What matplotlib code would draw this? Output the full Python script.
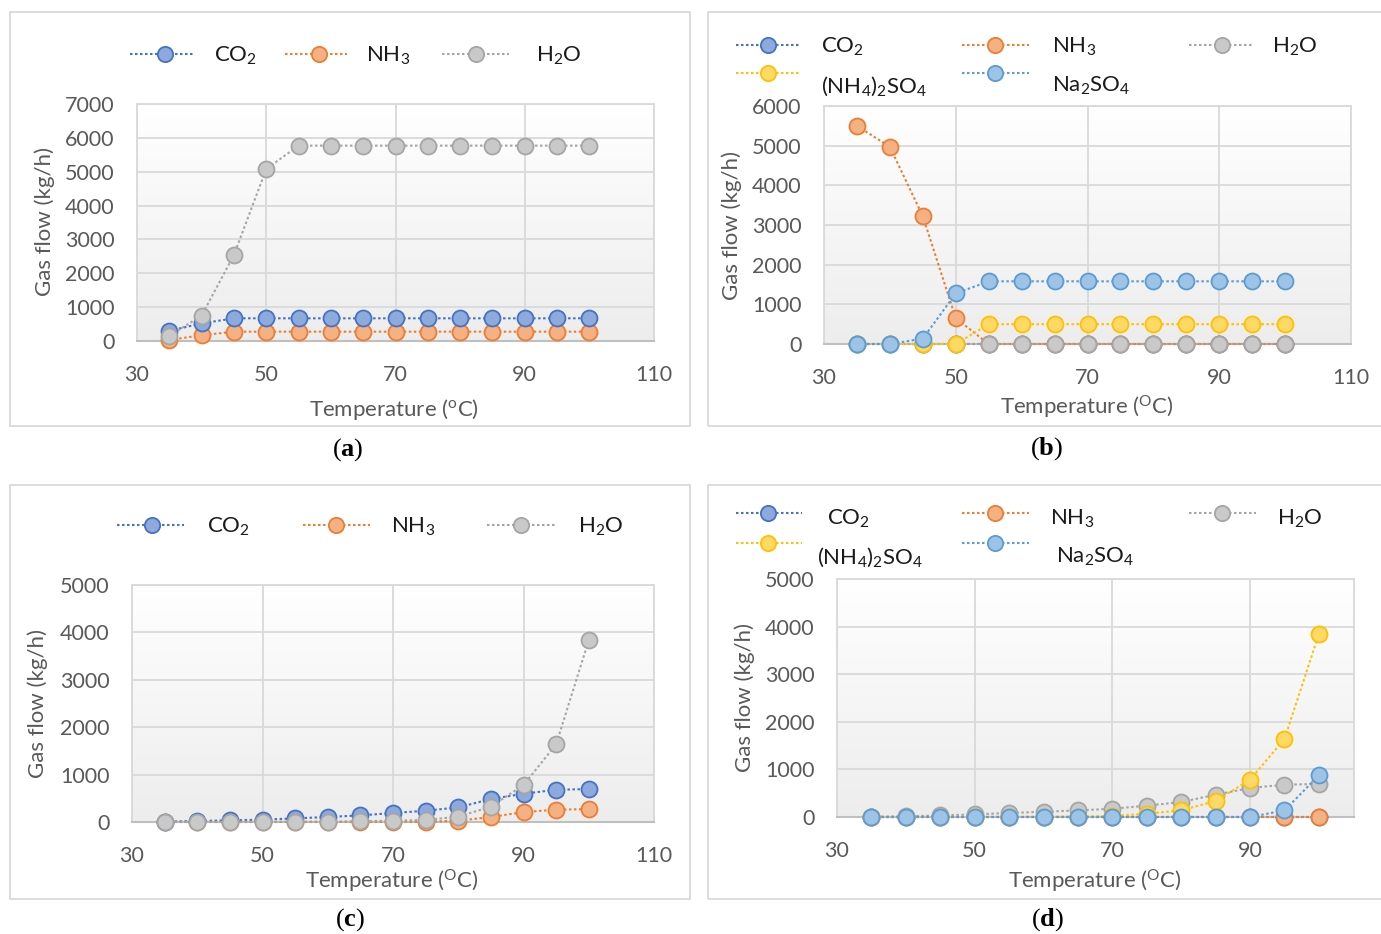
import numpy as np
import matplotlib
matplotlib.use("Agg")
import matplotlib.pyplot as plt
from matplotlib.lines import Line2D
from matplotlib.patches import Rectangle

plt.rcParams['font.family'] = ['Lato', 'DejaVu Sans']
plt.rcParams['mathtext.fontset'] = 'custom'
plt.rcParams['mathtext.rm'] = 'Lato'
plt.rcParams['mathtext.it'] = 'Lato:italic'
plt.rcParams['mathtext.bf'] = 'Liberation Serif:bold'

# ---------------- data ----------------
temps = [35, 40, 45, 50, 55, 60, 65, 70, 75, 80, 85, 90, 95, 100]

a_co2 = [300, 520, 670, 670, 670, 670, 670, 670, 670, 670, 670, 670, 670, 670]
a_nh3 = [30, 170, 275, 275, 275, 275, 275, 275, 275, 275, 275, 275, 275, 275]
a_h2o = [150, 750, 2540, 5080, 5770, 5770, 5770, 5770, 5770, 5770, 5770, 5770, 5770, 5770]

b_co2 = [0, 0, 0, 0, 0, 0, 0, 0, 0, 0, 0, 0, 0, 0]
b_nh3 = [5500, 4970, 3220, 650, 0, 0, 0, 0, 0, 0, 0, 0, 0, 0]
b_h2o = [0, 0, 0, 0, 0, 0, 0, 0, 0, 0, 0, 0, 0, 0]
b_ams = [0, 0, 0, 0, 500, 500, 500, 500, 500, 500, 500, 500, 500, 500]
b_nas = [0, 0, 135, 1275, 1580, 1580, 1580, 1580, 1580, 1580, 1580, 1580, 1580, 1580]

c_co2 = [7, 21, 35, 49, 77, 105, 140, 189, 238, 308, 484, 596, 680, 695]
c_nh3 = [0, 0, 0, 0, 0, 0, 2, 3, 5, 27, 105, 210, 259, 273]
c_h2o = [1, 2, 3, 5, 7, 10, 15, 28, 42, 113, 323, 780, 1639, 3833]

d_co2 = [0, 0, 0, 0, 0, 0, 0, 0, 0, 0, 0, 0, 0, 0]
d_nh3 = [0, 0, 0, 0, 0, 0, 0, 0, 0, 0, 0, 0, 0, 0]
d_h2o = [3, 14, 34, 55, 84, 111, 139, 174, 237, 315, 468, 609, 679, 693]
d_ams = [0, 0, 0, 0, 2, 5, 10, 20, 70, 139, 336, 783, 1638, 3844]
d_nas = [0, 0, 0, 0, 0, 0, 0, 0, 0, 0, 0, 0, 139, 874]

x_ticks_abc = [30, 50, 70, 90, 110]
x_ticks_d = [30, 50, 70, 90]

# ---------------- styles ----------------
W, H = 1381, 934
STY = {
    'co2': dict(line='#4472C4', face='#8EA9DB', edge='#4472C4'),
    'nh3': dict(line='#ED7D31', face='#F4B183', edge='#ED7D31'),
    'h2o': dict(line='#A5A5A5', face='#C9C9C9', edge='#A5A5A5'),
    'ams': dict(line='#FFC000', face='#FFD966', edge='#FFC000'),
    'nas': dict(line='#5B9BD5', face='#9DC3E6', edge='#5B9BD5'),
}
MS = 11.5
MEW = 1.3
LS = (0, (1.2, 1.2))
LW = 1.5
TICK_FS = 15.5
TXT_GRAY = '#595959'
GRID = '#d9d9d9'

fig = plt.figure(figsize=(W / 100, H / 100), dpi=100)


def fx(px):
    return px / W


def fy(py):
    return 1 - py / H


def frame(x0, y0, x1, y1):
    fig.add_artist(Rectangle((fx(x0), fy(y1)), fx(x1) - fx(x0), fy(y0) - fy(y1),
                             transform=fig.transFigure, fill=False,
                             edgecolor=GRID, lw=1.3, zorder=0))


def make_ax(l, t, r, b, xmax, ymax, ystep, xticks):
    ax = fig.add_axes([fx(l), fy(b), fx(r) - fx(l), fy(t) - fy(b)])
    ax.set_xlim(30, xmax)
    ax.set_ylim(0, ymax)
    ax.set_xticks(xticks)
    ax.set_yticks(np.arange(0, ymax + 1, ystep))
    grad = np.linspace(1, 0, 256).reshape(-1, 1)
    ax.imshow(grad, extent=[0, 1, 0, 1], transform=ax.transAxes, aspect='auto',
              cmap=matplotlib.colors.LinearSegmentedColormap.from_list('g', ['#ededed', '#ffffff']),
              vmin=0, vmax=1, zorder=0, interpolation='bilinear')
    ax.grid(True, color=GRID, lw=1.3, zorder=1)
    ax.set_axisbelow(True)
    for s in ['top', 'right', 'left']:
        ax.spines[s].set_color(GRID)
        ax.spines[s].set_linewidth(1.3)
    ax.spines['bottom'].set_color('#bfbfbf')
    ax.spines['bottom'].set_linewidth(1.5)
    ax.tick_params(length=0, labelsize=TICK_FS, labelcolor=TXT_GRAY)
    ax.tick_params(axis='y', pad=16)
    ax.tick_params(axis='x', pad=17)
    return ax


def plot_series(ax, y, key):
    s = STY[key]
    ax.plot(temps, y, linestyle=LS, lw=LW, color=s['line'], marker='o', ms=MS,
            mfc=s['face'], mec=s['edge'], mew=MEW, clip_on=False, zorder=3)


def leg_entry(x0, x1, xm, y, tx, ty, key, label):
    s = STY[key]
    fig.add_artist(Line2D([fx(x0), fx(x1)], [fy(y), fy(y)], transform=fig.transFigure,
                          linestyle=LS, lw=LW, color=s['line']))
    fig.add_artist(Line2D([fx(xm)], [fy(y)], transform=fig.transFigure, marker='o',
                          ms=MS - 0.5, mfc=s['face'], mec=s['edge'], mew=MEW, linestyle='none'))
    fig.text(fx(tx), fy(ty), label, ha='left', va='center', fontsize=TICK_FS + 0.5, color='#1a1a1a')


def texts(xl_x, xl_y, xl_txt, yl_x, yl_y, lab_x, lab_y, letter):
    fig.text(fx(xl_x), fy(xl_y), xl_txt, ha='center', va='center', fontsize=16, color=TXT_GRAY)
    fig.text(fx(yl_x), fy(yl_y), 'Gas flow (kg/h)', ha='center', va='center', rotation=90,
             fontsize=16, color=TXT_GRAY)
    fig.text(fx(lab_x), fy(lab_y), r'($\mathbf{%s}$)' % letter, ha='center', va='center',
             fontsize=19, family='Liberation Serif', color='black')


# frames
frame(10, 12, 690, 426)
frame(708, 12, 1400, 426)
frame(10, 485, 690, 899)
frame(708, 485, 1400, 899)

CO2 = r'CO$_2$'
NH3 = r'NH$_3$'
H2O = r'H$_2$O'
AMS = r'(NH$_4$)$_2$SO$_4$'
NAS = r'Na$_2$SO$_4$'

# ---------------- (a) ----------------
axa = make_ax(137, 104, 654, 341, 110, 7000, 1000, x_ticks_abc)
plot_series(axa, a_nh3, 'nh3')
plot_series(axa, a_co2, 'co2')
plot_series(axa, a_h2o, 'h2o')
leg_entry(130, 194, 165, 54, 214, 56, 'co2', CO2)
leg_entry(285, 347, 319, 54, 366, 56, 'nh3', NH3)
leg_entry(442, 509, 476, 54, 536, 56, 'h2o', H2O)
texts(394, 409, r'Temperature ($^{\mathrm{o}}$C)', 45, 222, 348, 450, 'a')

# ---------------- (b) ----------------
axb = make_ax(824, 106, 1351, 344, 110, 6000, 1000, x_ticks_abc)
plot_series(axb, b_co2, 'co2')
plot_series(axb, b_nh3, 'nh3')
plot_series(axb, b_h2o, 'h2o')
plot_series(axb, b_ams, 'ams')
plot_series(axb, b_nas, 'nas')
leg_entry(736, 801, 768, 45, 821, 47, 'co2', CO2)
leg_entry(962, 1029, 995, 45, 1052, 47, 'nh3', NH3)
leg_entry(1189, 1252, 1222, 45, 1272, 47, 'h2o', H2O)
leg_entry(736, 801, 768, 73, 821, 86, 'ams', AMS)
leg_entry(962, 1029, 995, 73, 1052, 86, 'nas', NAS)
texts(1087, 407, r'Temperature ($^{\mathrm{O}}$C)', 732, 225, 1047, 449, 'b')

# ---------------- (c) ----------------
axc = make_ax(132, 585, 654, 822, 110, 5000, 1000, x_ticks_abc)
plot_series(axc, c_nh3, 'nh3')
plot_series(axc, c_co2, 'co2')
plot_series(axc, c_h2o, 'h2o')
leg_entry(117, 184, 152, 525, 207, 527, 'co2', CO2)
leg_entry(303, 370, 336, 525, 391, 527, 'nh3', r'NH$_{\mathit{3}}$')
leg_entry(487, 556, 521, 525, 578, 527, 'h2o', H2O)
texts(392, 881, r'Temperature ($^{\mathrm{O}}$C)', 38, 703, 350, 920, 'c')

# ---------------- (d) ----------------
axd = make_ax(837, 579, 1354, 817, 105.1, 5000, 1000, x_ticks_d)
plot_series(axd, d_co2, 'co2')
plot_series(axd, d_nh3, 'nh3')
plot_series(axd, d_h2o, 'h2o')
plot_series(axd, d_ams, 'ams')
plot_series(axd, d_nas, 'nas')
leg_entry(736, 802, 768, 513, 827, 519, 'co2', CO2)
leg_entry(962, 1029, 995, 513, 1050, 519, 'nh3', NH3)
leg_entry(1189, 1256, 1222, 513, 1277, 519, 'h2o', H2O)
leg_entry(736, 802, 768, 543, 817, 557, 'ams', AMS)
leg_entry(962, 1029, 995, 543, 1056, 557, 'nas', NAS)
texts(1095, 881, r'Temperature ($^{\mathrm{O}}$C)', 745, 698, 1048, 920, 'd')

fig.savefig('out.png', dpi=100, facecolor='white')
